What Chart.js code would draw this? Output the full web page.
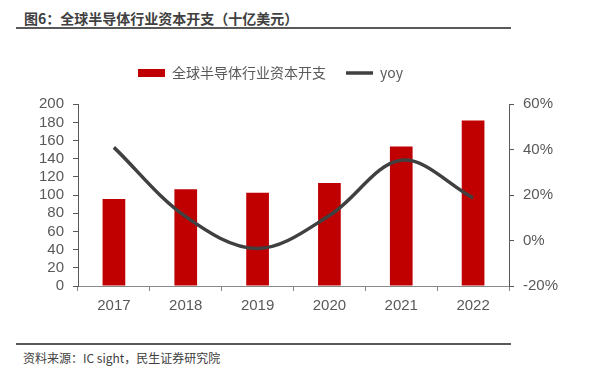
<!DOCTYPE html>
<html>
<head>
<meta charset="utf-8">
<script src="https://cdn.jsdelivr.net/npm/chart.js@4/dist/chart.umd.min.js"></script>
<style>
  html, body { margin: 0; padding: 0; background: #fff; }
  #page { position: relative; width: 593px; height: 374px; overflow: hidden; }
  #title {
    position: absolute; left: 24px; top: 8px;
    font: bold 14px "Noto Sans CJK SC", sans-serif; color: #404040; white-space: nowrap;
  }
  .rule { position: absolute; left: 16px; width: 495px; height: 2px; background: #595959; }
  #source {
    position: absolute; left: 23px; top: 349px;
    font: 12px "Noto Sans CJK SC", sans-serif; color: #404040; white-space: nowrap;
  }
  #wrap { position: absolute; left: 0; top: 0; width: 593px; height: 374px; }
</style>
</head>
<body>
<div id="page">
  <div id="title">图6：全球半导体行业资本开支（十亿美元）</div>
  <div class="rule" style="top:27px"></div>
  <div class="rule" style="top:343px"></div>
  <div id="source">资料来源：IC sight，民生证券研究院</div>
  <div id="wrap"><canvas id="chart"></canvas></div>
</div>
<script>
// data
const years = ['2017', '2018', '2019', '2020', '2021', '2022'];
const capex = [95.8, 106.3, 102.7, 113.3, 153.4, 182.2];   // 十亿美元
const yoy = [41, 10.5, -3.5, 11, 35.3, 18.8];              // %
const capexTicks = { min: 0, max: 200, step: 20 };
const yoyTicks = { min: -20, max: 60, step: 20 };

const RED = '#C00000';
const GREY_LINE = '#404040';
const AXIS_TEXT = '#595959';

Chart.defaults.animation = false;
Chart.defaults.font.family = '"Liberation Sans", Arial, sans-serif';

// legend in the original sits a bit left of centre
const legendShift = {
  id: 'legendShift',
  afterLayout(chart) {
    if (chart.legend) {
      chart.legend.left -= 26;
      chart.legend.right -= 26;
    }
  }
};

new Chart(document.getElementById('chart'), {
  type: 'bar',
  data: {
    labels: years,
    datasets: [{
      type: 'bar',
      label: '全球半导体行业资本开支',
      data: capex,
      backgroundColor: RED,
      borderWidth: 0,
      pointStyle: 'rect',
      categoryPercentage: 1,
      barPercentage: 0.316,
      yAxisID: 'y',
      order: 1
    }, {
      type: 'line',
      label: 'yoy',
      data: yoy,
      borderColor: GREY_LINE,
      backgroundColor: GREY_LINE,
      borderWidth: 3.5,
      pointRadius: 0,
      pointStyle: 'line',
      tension: 0.35,
      yAxisID: 'y1',
      order: 0
    }]
  },
  plugins: [legendShift],
  options: {
    responsive: true,
    maintainAspectRatio: false,
    layout: { padding: { top: 46, left: 0, right: 0, bottom: 58 } },
    plugins: {
      legend: {
        display: true,
        position: 'top',
        labels: {
          usePointStyle: true,
          pointStyleWidth: 27,
          boxHeight: 8,
          padding: 20,
          color: AXIS_TEXT,
          font: { family: '"Noto Sans CJK SC", sans-serif', size: 14 },
          sort: (a, b) => a.datasetIndex - b.datasetIndex
        }
      },
      // empty subtitle used only as a gap between legend and plot
      subtitle: {
        display: true,
        text: '',
        weight: 500,
        font: { size: 1 },
        padding: { top: 0, bottom: 13 }
      },
      tooltip: { enabled: false }
    },
    scales: {
      x: {
        offset: true,
        grid: { offset: true, drawOnChartArea: false, drawTicks: true, tickLength: 5, color: '#898989' },
        border: { color: '#898989', width: 1 },
        ticks: { color: AXIS_TEXT, font: { size: 15 }, padding: 6 },
        afterFit: axis => { axis.height = 30; }
      },
      y: {
        position: 'left',
        min: capexTicks.min,
        max: capexTicks.max,
        ticks: { stepSize: capexTicks.step, autoSkip: false, color: AXIS_TEXT, font: { size: 15 }, padding: 9 },
        grid: { drawOnChartArea: false, drawTicks: true, tickLength: 5, color: '#595959' },
        border: { color: '#595959', width: 1 },
        afterFit: axis => { axis.width = 78; }
      },
      y1: {
        position: 'right',
        min: yoyTicks.min,
        max: yoyTicks.max,
        ticks: { stepSize: yoyTicks.step, autoSkip: false, color: AXIS_TEXT, font: { size: 15 }, padding: 9,
                 callback: v => v + '%' },
        grid: { drawOnChartArea: false, drawTicks: true, tickLength: 5, color: '#595959' },
        border: { color: '#595959', width: 1 },
        afterFit: axis => { axis.width = 84; }
      }
    }
  }
});
</script>
</body>
</html>
